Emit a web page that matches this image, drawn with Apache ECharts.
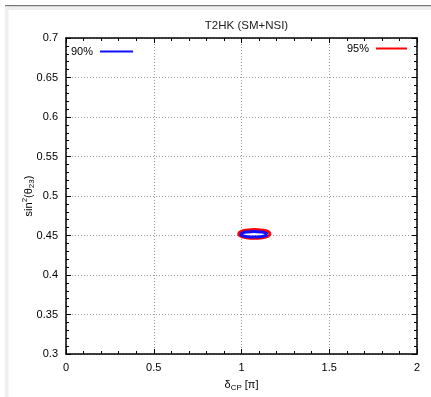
<!DOCTYPE html>
<html><head><meta charset="utf-8">
<script src="https://cdn.jsdelivr.net/npm/echarts@6/dist/echarts.min.js"></script>
<style>html,body{margin:0;padding:0;background:#fff}#c{width:431px;height:397px}</style>
</head><body><div id="c"></div>
<script>
// Data: contour points (delta_CP in units of pi, sin^2 theta23)
const title = 'T2HK (SM+NSI)';
const xTicks = [0, 0.5, 1, 1.5, 2];
const yTicks = [0.3, 0.35, 0.4, 0.45, 0.5, 0.55, 0.6, 0.65, 0.7];
const names = ['90%', '95%'];
const contour95x = [1.164, 1.152, 1.119, 1.074, 1.029, 0.996, 0.984, 0.996, 1.029, 1.074, 1.119, 1.152, 1.164];
const contour95y = [0.452, 0.4548, 0.4568, 0.4575, 0.4568, 0.4548, 0.452, 0.4492, 0.4472, 0.4465, 0.4472, 0.4492, 0.452];
const contour90x = [1.146, 1.136, 1.108, 1.071, 1.034, 1.006, 0.996, 1.006, 1.034, 1.071, 1.108, 1.136, 1.146];
const contour90y = [0.4515, 0.4533, 0.4545, 0.455, 0.4545, 0.4533, 0.4515, 0.4497, 0.4485, 0.448, 0.4485, 0.4497, 0.4515];

const pts = (xs, ys) => xs.map((x, i) => [x, ys[i]]);
const font = 'Liberation Sans, Arial, sans-serif';
const chart = echarts.init(document.getElementById('c'), null, {renderer: 'canvas'});

const baseAxis = {
  axisLine: {show: true, onZero: false, lineStyle: {color: '#000', width: 1.5}},
  axisTick: {show: true, inside: true, length: 5, lineStyle: {color: '#000', width: 1}},
  minorTick: {show: true, splitNumber: 5, length: 3, lineStyle: {color: '#000', width: 1}},
  splitLine: {show: false},
  axisLabel: {color: '#000', fontFamily: font, fontSize: 11}
};

chart.setOption({
  animation: false,
  backgroundColor: '#fff',
  title: {text: title, left: 241.5, textAlign: 'center', top: 15,
    textStyle: {fontFamily: font, fontSize: 11.5, fontWeight: 'normal', color: '#222'}},
  grid: {left: 66, right: 14, top: 38, bottom: 40},
  legend: [
    {data: [{name: names[0]}], left: 66, top: 41, align: 'right', icon: 'rect', itemWidth: 33, itemHeight: 2, itemGap: 0,
      textStyle: {fontFamily: font, fontSize: 11, color: '#000', padding: [0, 2, 0, 0]}},
    {data: [{name: names[1]}], left: 342, top: 38, align: 'right', icon: 'rect', itemWidth: 31, itemHeight: 2, itemGap: 0,
      textStyle: {fontFamily: font, fontSize: 11, color: '#000', padding: [0, 2, 0, 0]}}
  ],
  xAxis: [
    Object.assign({}, baseAxis, {type: 'value', position: 'bottom', min: xTicks[0], max: xTicks[xTicks.length - 1], interval: 0.5,
      splitLine: {show: true, lineStyle: {color: '#999', type: [1, 2], width: 1}},
      name: '{a|δ}{sub|CP}{a| [π]}', nameLocation: 'middle', nameGap: 23, nameMoveOverlap: false,
      nameTextStyle: {fontFamily: font, color: '#000', rich: {
        a: {fontFamily: font, fontSize: 11, color: '#000'},
        sub: {fontFamily: font, fontSize: 8, color: '#000', padding: [7, 0, 0, 0]}}}}),
    Object.assign({}, baseAxis, {type: 'value', position: 'top', min: 0, max: 2, interval: 0.5, axisLabel: {show: false}})
  ],
  yAxis: [
    Object.assign({}, baseAxis, {type: 'value', position: 'left', min: yTicks[0], max: yTicks[yTicks.length - 1], interval: 0.05,
      splitLine: {show: true, lineStyle: {color: '#999', type: [1, 2], width: 1}},
      axisLabel: {color: '#000', fontFamily: font, fontSize: 11, margin: 8},
      name: '{a|sin}{sup|2}{a|(θ}{sub|23}{a|)}', nameLocation: 'middle', nameGap: 30, nameRotate: 90, nameMoveOverlap: false,
      nameTextStyle: {fontFamily: font, color: '#000', rich: {
        a: {fontFamily: font, fontSize: 11, color: '#000'},
        sup: {fontFamily: font, fontSize: 8, color: '#000', padding: [0, 0, 7, 0]},
        sub: {fontFamily: font, fontSize: 8, color: '#000', padding: [7, 0, 0, 0]}}}}),
    Object.assign({}, baseAxis, {type: 'value', position: 'right', min: 0.3, max: 0.7, interval: 0.05, axisLabel: {show: false}})
  ],
  series: [
    {name: names[1], type: 'line', data: pts(contour95x, contour95y), smooth: 0.5, showSymbol: false, symbol: 'none',
      lineStyle: {color: '#ff0000', width: 3}, itemStyle: {color: '#ff0000'}},
    {name: names[0], type: 'line', data: pts(contour90x, contour90y), smooth: 0.5, showSymbol: false, symbol: 'none',
      lineStyle: {color: '#1010ff', width: 3}, itemStyle: {color: '#1010ff'}}
  ],
  graphic: [
    {type: 'rect', shape: {x: 5, y: 5, width: 426, height: 1.5}, style: {fill: '#777'}, silent: true},
    {type: 'rect', shape: {x: 5, y: 6.5, width: 426, height: 3.5}, style: {fill: '#eeeeee'}, silent: true},
    {type: 'rect', shape: {x: 5, y: 6.5, width: 3.5, height: 391}, style: {fill: '#eeeeee'}, silent: true}
  ]
});
</script></body></html>
